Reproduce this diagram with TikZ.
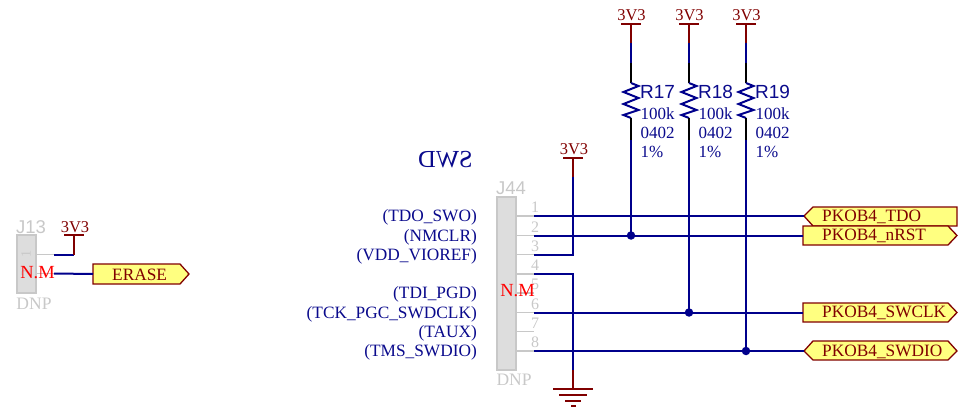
\documentclass[tikz,border=0pt]{standalone}
\usepackage{fontspec}
\setmainfont{Liberation Serif}
\setsansfont{Liberation Sans}
\usetikzlibrary{calc}
\definecolor{wireblue}{HTML}{00008C}
\definecolor{compred}{HTML}{800000}
\definecolor{pingrey}{HTML}{C8C8C8}
\definecolor{bodygrey}{HTML}{DDDDDD}
\definecolor{flagfill}{HTML}{FFFF80}
\definecolor{labelblue}{HTML}{0A0A8C}
\tikzset{
  x=1pt,y=-1pt,
  wire/.style={draw=wireblue,line width=2pt},
  redline/.style={draw=compred,line width=2pt},
  blackline/.style={draw=black,line width=2pt},
  pinline/.style={draw=pingrey,line width=1.6pt},
  body/.style={draw=pingrey,fill=bodygrey,line width=1.2pt},
  flag/.style={draw=compred,fill=flagfill,line width=1.3pt,line join=miter},
  flagtext/.style={text=compred,font=\fontsize{17.3}{17}\selectfont,anchor=west,inner sep=0pt},
  pwr/.style={text=compred,font=\fontsize{16.5}{16}\selectfont,inner sep=0pt},
  sigtext/.style={text=labelblue,font=\fontsize{17.3}{17}\selectfont,anchor=east,inner sep=0pt},
  valtext/.style={text=labelblue,font=\fontsize{17}{17}\selectfont,anchor=west,inner sep=0pt},
  reftext/.style={text=labelblue,font=\sffamily\fontsize{19}{19}\selectfont,anchor=west,inner sep=0pt},
  greytext/.style={text=pingrey,inner sep=0pt},
  nmtext/.style={text=red,font=\fontsize{18.5}{18}\selectfont,inner sep=0pt},
  junction/.style={circle,fill=wireblue,inner sep=0pt,minimum size=8.5pt},
  res/.style={draw=wireblue,line width=2pt,line join=miter},
}
\begin{document}
\begin{tikzpicture}
\useasboundingbox (0,0) rectangle (958,412);
% ---------- J13
\draw[body] (17,235) rectangle (36,293);
\coordinate (j13p1) at (36,254.5);
\coordinate (j13p1e) at (54,254.5);
\coordinate (j13p2) at (36,273.5);
\coordinate (j13p2e) at (54,273.5);
\coordinate (j13v) at (74,235);
\coordinate (j13c) at (74,254.5);
\draw[pinline] (j13p1) -- (j13p1e);
\draw[pinline] (j13p2) -- (j13p2e);
\draw[wire] (j13p1e) -- (j13c);
\draw[redline] (j13v) -- (j13c);
\draw[redline] (64,235) -- (84,235);
\node[pwr] (p13) at (75,227) {3V3};
\node[greytext,font=\sffamily\fontsize{18.5}{18}\selectfont] (j13ref) at (31,227) {J13};
\node[greytext,font=\fontsize{17.5}{17}\selectfont] (j13dnp) at (34,303.5) {DNP};
\node[text=pingrey,rotate=90,inner sep=0pt,font=\fontsize{14}{14}\selectfont] (j13n1) at (26,253.5) {1};
\node[text=pingrey,rotate=90,inner sep=0pt,font=\fontsize{14}{14}\selectfont] (j13n2) at (26,273) {2};
\node[nmtext] (j13nm) at (37.5,272.5) {N.M};
\coordinate (eraseL) at (93,274);
\draw[flag] (93,264) -- (180,264) -- (189,274) -- (180,284) -- (93,284) -- cycle;
\node[flagtext] (erase) at (112,275) {ERASE};
\draw[wire] (j13p2e) -- (eraseL);
% ---------- J44
\draw[body] (497,197) rectangle (516,370);
\node[greytext,font=\sffamily\fontsize{18.5}{18}\selectfont] (j44ref) at (511,188.5) {J44};
\node[greytext,font=\fontsize{17.5}{17}\selectfont] (j44dnp) at (514,379.5) {DNP};
\foreach \n/\y in {1/216,2/235.5,3/254.5,4/274,5/293,6/312.5,7/331.5,8/351}{
  \coordinate (a\n) at (516,\y);
  \coordinate (b\n) at (534,\y);
  \draw[pinline] (a\n) -- (b\n);
  \node[greytext,font=\fontsize{16}{16}\selectfont] (num\n) at (535,\y-8.5) {\n};
}
\node[nmtext] (j44nm) at (517.5,290.5) {N.M};
% ---------- signal labels
\node[sigtext] (s1) at (477,217.5) {(TDO\_SWO)};
\node[sigtext] (s2) at (477,237) {(NMCLR)};
\node[sigtext] (s3) at (477,256) {(VDD\_VIOREF)};
\node[sigtext] (s5) at (477,294.5) {(TDI\_PGD)};
\node[sigtext] (s6) at (477,314) {(TCK\_PGC\_SWDCLK)};
\node[sigtext] (s7) at (477,333) {(TAUX)};
\node[sigtext] (s8) at (477,352.5) {(TMS\_SWDIO)};
\node[text=labelblue,font=\fontsize{24.5}{24}\selectfont,xscale=-1,inner sep=0pt] (swd) at (445.5,160) {SWD};
% ---------- flags
\draw[flag] (804,216) -- (813,207) -- (957,207) -- (957,226) -- (813,226) -- cycle;
\draw[flag] (803,226) -- (948,226) -- (957,235.5) -- (948,245) -- (803,245) -- cycle;
\draw[flag] (803,303) -- (948,303) -- (957,312.5) -- (948,322) -- (803,322) -- cycle;
\draw[flag] (804,351) -- (813,341) -- (948,341) -- (957,351) -- (948,360) -- (813,360) -- cycle;
\node[flagtext] (f1) at (822,217) {PKOB4\_TDO};
\node[flagtext] (f2) at (822,235.5) {PKOB4\_nRST};
\node[flagtext] (f3) at (822,313) {PKOB4\_SWCLK};
\node[flagtext] (f4) at (822,352) {PKOB4\_SWDIO};
\coordinate (t1) at (804,216);
\coordinate (t2) at (803,235.5);
\coordinate (t3) at (803,312.5);
\coordinate (t4) at (804,351);
\draw[wire] (b1) -- (t1);
\draw[wire] (b2) -- (t2);
\draw[wire] (b6) -- (t3);
\draw[wire] (b8) -- (t4);
% ---------- 3V3 on pin 3
\coordinate (v3top) at (573,158);
\coordinate (v3mid) at (573,177);
\coordinate (v3c) at (573,254.5);
\draw[redline] (563,158) -- (583,158);
\draw[redline] (v3top) -- (v3mid);
\draw[wire] (v3mid) -- (v3c) -- (b3);
\node[pwr] (p3) at (574,149.5) {3V3};
% ---------- GND on pin 4
\coordinate (g4c) at (573,274);
\coordinate (g4m) at (573,370);
\coordinate (g4b) at (573,389);
\draw[wire] (b4) -- (g4c) -- (g4m);
\draw[redline] (g4m) -- (g4b);
\draw[redline] (553,389) -- (593,389);
\draw[redline] (559,395) -- (587,395);
\draw[redline] (565,400.5) -- (581,400.5);
\draw[redline] (571,406) -- (576,406);
% ---------- resistors
\foreach \r/\x/\yy/\lab in {17/631/235.5/R17,18/689/312.5/R18,19/746/351/R19}{
  \coordinate (rt\r) at (\x,24);
  \coordinate (rr\r) at (\x,43);
  \coordinate (rb\r) at (\x,63);
  \coordinate (rz\r) at (\x,83);
  \coordinate (rq\r) at (\x,118);
  \coordinate (rk\r) at (\x,140);
  \coordinate (rj\r) at (\x,\yy);
  \draw[redline] (\x-10,24) -- (\x+10,24);
  \draw[redline] (rt\r) -- (rr\r);
  \draw[wire] (rr\r) -- (rb\r);
  \draw[blackline] (rb\r) -- (rz\r);
  \draw[res] (rz\r) -- ++(7.5,3) -- ++(-15,6) -- ++(15,6) -- ++(-15,6) -- ++(15,6) -- ++(-15,5) -- (rq\r);
  \draw[blackline] (rq\r) -- (rk\r);
  \draw[wire] (rk\r) -- (rj\r);
  \node[junction] (dot\r) at (rj\r) {};
  \node[pwr] (pw\r) at (\x+.5,15.5) {3V3};
  \node[reftext] (ref\r) at (\x+9,92) {\lab};
  \node[valtext] (val\r) at (\x+9.5,113.5) {100k};
  \node[valtext] (pkg\r) at (\x+9.5,132.5) {0402};
  \node[valtext] (tol\r) at (\x+9.5,151.5) {1\%};
}
\end{tikzpicture}
\end{document}
